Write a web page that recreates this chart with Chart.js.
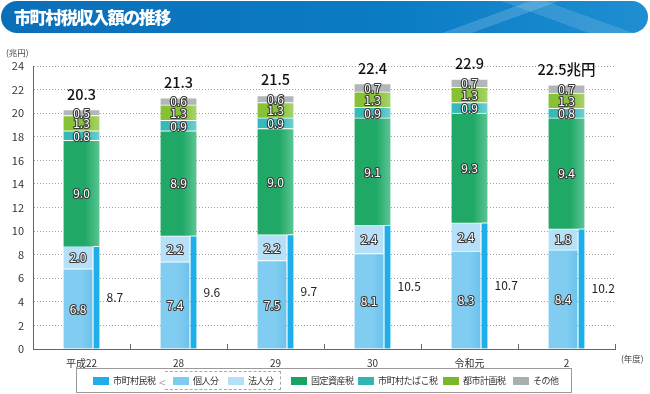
<!DOCTYPE html>
<html lang="ja">
<head>
<meta charset="utf-8">
<script src="https://cdn.jsdelivr.net/npm/chart.js@4.4.6/dist/chart.umd.min.js"></script>
<style>
  html, body { margin: 0; padding: 0; background: #fff; }
  body { width: 650px; height: 394px; position: relative; overflow: hidden; font-family: "Noto Sans CJK JP", "Noto Sans", sans-serif; }
  #chart { position: absolute; left: 0; top: 0; }
  .banner {
    position: absolute; left: 1px; top: 1px; width: 647px; height: 32px; border-radius: 16px;
    background:
      linear-gradient(160deg, transparent 72%, rgba(255,255,255,0.16) 72%, rgba(255,255,255,0.16) 76%, transparent 76%),
      linear-gradient(20deg, transparent 80%, rgba(255,255,255,0.13) 80%, rgba(255,255,255,0.13) 86%, transparent 86%),
      linear-gradient(90deg, #0b6fb8 0%, #0a7cc4 60%, #1f8ed2 100%);
  }
  .banner h1 {
    margin: 0; padding-left: 13px; line-height: 32px; color: #fff;
    font-size: 17px; font-weight: 900; letter-spacing: -1.4px;
  }
  .legend {
    position: absolute; left: 76px; top: 368px; width: 494px; height: 23px;
    border: 1px solid #9a9a9a; font-size: 9px; color: #333;
  }
  .legend .item { position: absolute; top: 0; height: 23px; display: flex; align-items: center; white-space: nowrap; letter-spacing: -0.5px; }
  .legend .sw { width: 16px; height: 8px; margin-right: 4px; }
  .legend .group { position: absolute; left: 88px; top: 2px; width: 115px; height: 17px; border: 1px dashed #a8a8a8; border-left: none; }
  .legend .chev { position: absolute; left: 82px; top: 4px; font-size: 12px; color: #aaa; }
</style>
</head>
<body>
<canvas id="chart" width="650" height="394"></canvas>
<div class="banner"><h1>市町村税収入額の推移</h1></div>
<div class="legend" id="legend"></div>

<script>
// 年度
const years = ["平成22", "28", "29", "30", "令和元", "2"]

// 兆円
const shichosonMinzei = [8.7, 9.6, 9.7, 10.5, 10.7, 10.2]
const kojinbun = [6.8, 7.4, 7.5, 8.1, 8.3, 8.4]
const hojinbun = [2.0, 2.2, 2.2, 2.4, 2.4, 1.8]
const koteiShisanzei = [9.0, 8.9, 9.0, 9.1, 9.3, 9.4]
const tabakozei = [0.8, 0.9, 0.9, 0.9, 0.9, 0.8]
const toshiKeikakuzei = [1.3, 1.3, 1.3, 1.3, 1.3, 1.3]
const sonota = [0.5, 0.6, 0.6, 0.7, 0.7, 0.7]
const totals = [20.3, 21.3, 21.5, 22.4, 22.9, 22.5]

const yTicks = { min: 0, max: 24, step: 2 }

const FONT = '"Noto Sans CJK JP", "Noto Sans", sans-serif'

const legendItems = [
  { label: "市町村民税", color: "#1eaee8", left: 16 },
  { label: "個人分", color: "#7ccbf0", left: 96 },
  { label: "法人分", color: "#b6e0f7", left: 151 },
  { label: "固定資産税", color: "#17a462", left: 214 },
  { label: "市町村たばこ税", color: "#2fb5b3", left: 281 },
  { label: "都市計画税", color: "#79b82a", left: 366 },
  { label: "その他", color: "#a9aeb1", left: 436 }
]

// 棒の横位置をずらす（個人分・法人分は左、市町村民税は右の細い帯）
// ついでに横方向のグラデーションを付ける
const shiftBars = {
  id: "shiftBars",
  afterDatasetsUpdate(chart) {
    const { ctx } = chart
    chart.data.datasets.forEach((ds, i) => {
      chart.getDatasetMeta(i).data.forEach((bar) => {
        if (ds.shift) bar.x += ds.shift
        if (ds.shade) {
          const g = ctx.createLinearGradient(bar.x - bar.width / 2, 0, bar.x + bar.width / 2, 0)
          g.addColorStop(0, ds.shade[0])
          g.addColorStop(0.6, ds.shade[0])
          g.addColorStop(1, ds.shade[1])
          bar.options = { ...bar.options, backgroundColor: g }
        }
      })
    })
  }
}

const valueLabels = {
  id: "valueLabels",
  afterDatasetsDraw(chart) {
    const { ctx } = chart
    ctx.save()
    ctx.textBaseline = "middle"
    chart.data.datasets.forEach((ds, i) => {
      const meta = chart.getDatasetMeta(i)
      meta.data.forEach((bar, j) => {
        const text = ds.data[j].toFixed(1)
        const cy = (bar.y + bar.base) / 2
        if (ds.sideLabel) {
          ctx.font = `12px ${FONT}`
          ctx.fillStyle = "#222"
          ctx.textAlign = "left"
          ctx.fillText(text, bar.x + 10, cy)
          return
        }
        ctx.font = `12px ${FONT}`
        ctx.textAlign = "center"
        ctx.lineJoin = "round"
        ctx.lineWidth = 2.2
        ctx.strokeStyle = "#3a3a3a"
        ctx.strokeText(text, bar.x, cy + 0.5)
        ctx.fillStyle = "#fff"
        ctx.fillText(text, bar.x, cy + 0.5)
      })
    })

    // 合計
    const topMeta = chart.getDatasetMeta(chart.data.datasets.length - 1)
    ctx.font = `500 14.5px ${FONT}`
    ctx.fillStyle = "#111"
    ctx.textAlign = "center"
    ctx.textBaseline = "alphabetic"
    topMeta.data.forEach((bar, j) => {
      const text = totals[j].toFixed(1) + (j === totals.length - 1 ? "兆円" : "")
      ctx.fillText(text, bar.x, bar.y - 10)
    })
    ctx.restore()
  },
  afterDraw(chart) {
    const { ctx, chartArea, scales } = chart
    ctx.save()
    // x軸の区切り目盛
    const xs = scales.x
    const half = (xs.getPixelForValue(1) - xs.getPixelForValue(0)) / 2
    ctx.strokeStyle = "#666"
    ctx.lineWidth = 1
    ctx.beginPath()
    years.forEach((_, i) => {
      const px = Math.round(xs.getPixelForValue(i) + half) + 0.5
      ctx.moveTo(px, chartArea.bottom)
      ctx.lineTo(px, chartArea.bottom - 5)
    })
    ctx.stroke()
    // 単位
    ctx.fillStyle = "#444"
    ctx.font = `8.5px ${FONT}`
    ctx.textAlign = "left"
    ctx.textBaseline = "middle"
    ctx.fillText("(兆円)", 6, 53)
    ctx.fillText("(年度)", chartArea.right + 6, chartArea.bottom + 10)
    ctx.restore()
  }
}

const common = { grouped: false, borderColor: "#fff", borderWidth: { top: 1 }, borderSkipped: "start" }

new Chart(document.getElementById("chart"), {
  type: "bar",
  data: {
    labels: years,
    datasets: [
      { ...common, label: "個人分", data: kojinbun, stack: "split", backgroundColor: "#7ccbf0", shade: ["#80cdf1", "#6cc2ec"], barThickness: 29, shift: -3.5, order: 2 },
      { ...common, label: "法人分", data: hojinbun, stack: "split", backgroundColor: "#b6e0f7", barThickness: 29, shift: -3.5, order: 2 },
      { ...common, label: "市町村民税", data: shichosonMinzei, stack: "main", backgroundColor: "#1eaee8", barThickness: 6, shift: 15, sideLabel: true, order: 1 },
      { ...common, label: "固定資産税", data: koteiShisanzei, stack: "main", backgroundColor: "#1fa866", shade: ["#1fa866", "#5cc593"], barThickness: 36, order: 1 },
      { ...common, label: "市町村たばこ税", data: tabakozei, stack: "main", backgroundColor: "#3dbcbc", shade: ["#36b9b9", "#6fd0d0"], barThickness: 36, order: 1 },
      { ...common, label: "都市計画税", data: toshiKeikakuzei, stack: "main", backgroundColor: "#8cc43e", shade: ["#86c136", "#a8d46c"], barThickness: 36, order: 1 },
      { ...common, label: "その他", data: sonota, stack: "main", backgroundColor: "#b2b6b9", barThickness: 36, order: 1 }
    ]
  },
  options: {
    responsive: false,
    animation: false,
    layout: { padding: { top: 66, bottom: 23, left: 0, right: 35 } },
    plugins: { legend: { display: false }, tooltip: { enabled: false }, title: { display: false } },
    scales: {
      x: {
        stacked: true,
        offset: true,
        grid: { display: false },
        border: { display: true, color: "#666", width: 1 },
        ticks: { color: "#333", font: { family: FONT, size: 10 }, padding: 0, maxRotation: 0 },
        afterFit: (s) => { s.height = 22 }
      },
      y: {
        stacked: true,
        min: yTicks.min,
        max: yTicks.max,
        grid: { color: "#a0a0a0", drawTicks: false, lineWidth: 1 },
        border: { display: true, color: "#666", width: 1, dash: [1, 2] },
        ticks: { stepSize: yTicks.step, color: "#333", font: { family: FONT, size: 11 }, padding: 9 },
        afterFit: (s) => { s.width = 33 }
      }
    }
  },
  plugins: [shiftBars, valueLabels]
})

// 凡例
const legend = document.getElementById("legend")
legend.innerHTML = '<span class="chev">&lt;</span><div class="group"></div>' +
  legendItems.map((it) => `<div class="item" style="left:${it.left}px"><span class="sw" style="background:${it.color}"></span>${it.label}</div>`).join("")
</script>
</body>
</html>
